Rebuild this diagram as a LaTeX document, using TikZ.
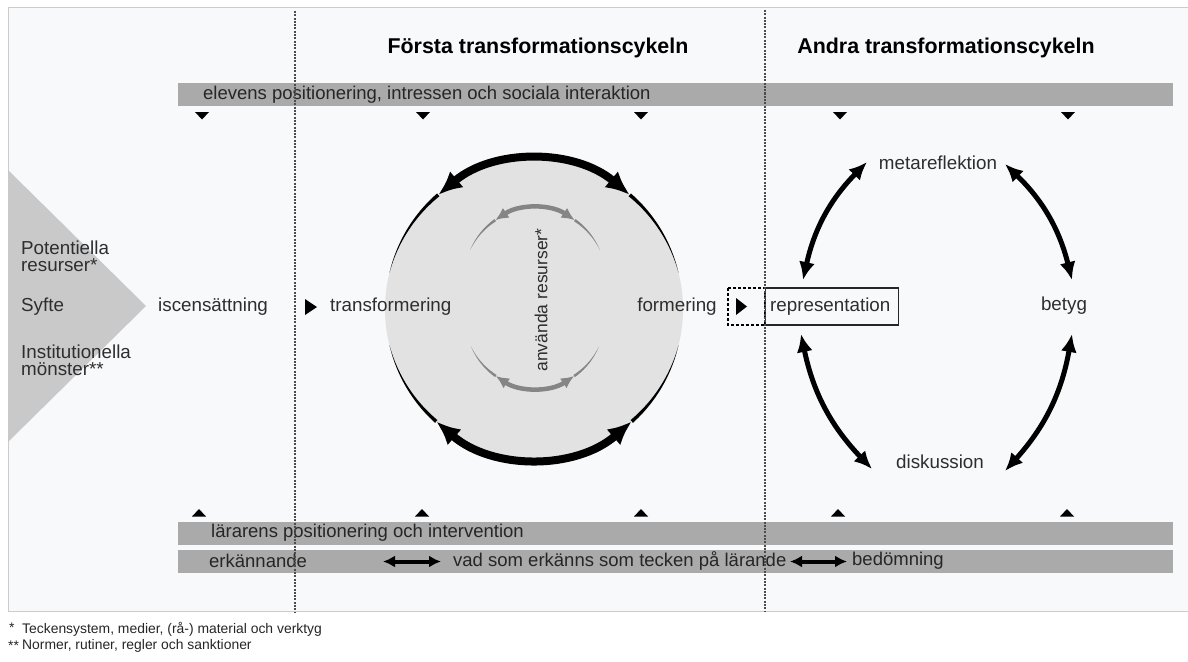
\documentclass[tikz,border=0pt]{standalone}
\usepackage{fontspec}
\setmainfont{Liberation Sans}
\usetikzlibrary{arrows.meta}
\definecolor{framebg}{HTML}{F8F9FB}
\definecolor{framegray}{HTML}{CCCCCC}
\definecolor{bargray}{HTML}{AAAAAA}
\definecolor{trigray}{HTML}{C9C9C9}
\definecolor{circgray}{HTML}{E2E2E2}
\definecolor{arrgray}{HTML}{858585}
\definecolor{textgray}{HTML}{2E2E2E}
% tapered tail of an arc: cx, cy, r, thick angle, end angle, half width, colour
\newcommand{\mytaper}[7]{%
  \fill[#7] plot[domain=#4:#5,samples=25] ({#1+(#3+#6*(\x-#5)/(#4-#5))*cos(\x)},{#2-(#3+#6*(\x-#5)/(#4-#5))*sin(\x)})
    -- plot[domain=#5:#4,samples=25] ({#1+(#3-#6*(\x-#5)/(#4-#5))*cos(\x)},{#2-(#3-#6*(\x-#5)/(#4-#5))*sin(\x)}) -- cycle;}
\begin{document}
\begin{tikzpicture}[x=1pt,y=-1pt,
  txt/.style={font=\fontsize{18.8}{16}\selectfont, text=textgray, inner sep=0pt},
  head/.style={font=\fontsize{21.4}{23}\selectfont\bfseries, text=black, inner sep=0pt},
  bartxt/.style={font=\fontsize{18.5}{20}\selectfont, text=black!85, inner sep=0pt, anchor=west},
  foot/.style={font=\fontsize{13.9}{15}\selectfont, text=black!85, inner sep=0pt, anchor=west},
  barbox/.style={fill=bargray, draw=none, inner sep=0pt, minimum width=995pt, minimum height=23pt, anchor=north west},
  divider/.style={line width=1.3pt, black!70, dash pattern=on 2pt off 1.3pt},
  cyc/.style={line width=5pt, {Latex[length=18pt,width=16pt]}-{Latex[length=18pt,width=16pt]}},
  dbl/.style={line width=4pt, {Latex[length=12pt,width=12pt]}-{Latex[length=12pt,width=12pt]}},
  bigarc/.style={line width=8pt, {Latex[length=24pt,width=21pt]}-{Latex[length=24pt,width=21pt]}},
  smallarc/.style={arrgray, line width=4.5pt, {Latex[length=13pt,width=12pt]}-{Latex[length=13pt,width=12pt]}},
]
\useasboundingbox (0,0) rectangle (1188,661);
\fill[white] (0,0) rectangle (1188,661);

% frame
\path[fill=framebg, draw=framegray, line width=0.8pt] (8,7) rectangle (1200,611);

% headings
\node[head] (h1) at (538,48) {Första transformationscykeln};
\node[head] (h2) at (946,48) {Andra transformationscykeln};

% top bar
\node[barbox] (topbar) at (178,83) {};
\node[bartxt] (elev) at (203,95) {elevens positionering, intressen och sociala interaktion};
\foreach \xx in {202,423,641,840,1068}
  \fill[black] (\xx,112) ++(-7,0) -- ++(14,0) -- ++(-7,7.5) -- cycle;

% bottom bars
\node[barbox] (botbar1) at (178,522) {};
\node[barbox] (botbar2) at (178,549.5) {};
\node[bartxt] (lar) at (211,533) {lärarens positionering och intervention};
\node[bartxt] (erk) at (209,561) {erkännande};
\node[bartxt] (vad) at (453,561) {vad som erkänns som tecken på lärande};
\node[bartxt] (bed) at (852,561) {bedömning};
\coordinate (d1a) at (383,561.5); \coordinate (d1b) at (441,561.5);
\coordinate (d2a) at (790,561.5); \coordinate (d2b) at (847,561.5);
\draw[dbl] (d1a) -- (d1b);
\draw[dbl] (d2a) -- (d2b);
\foreach \xx in {199,422,641,838,1067}
  \fill[black] (\xx,516.5) ++(-7,0) -- ++(14,0) -- ++(-7,-7.5) -- cycle;

% left wedge
\fill[trigray] (8,170) -- (146,306) -- (8,442) -- cycle;
\node[txt, font=\fontsize{18.8}{17}\selectfont, anchor=west, align=left] (pot) at (21,256) {Potentiella\\resurser*};
\node[txt, anchor=west] (syf) at (21,307) {Syfte};
\node[txt, font=\fontsize{18.8}{17}\selectfont, anchor=west, align=left] (inst) at (21,360) {Institutionella\\mönster**};

\node[txt, anchor=west] (isc) at (158,307) {iscensättning};
\fill[black] (305,299) -- (317,307) -- (305,315) -- cycle;

% big circle
\node[circle, fill=circgray, minimum size=298pt, inner sep=0pt] (circ) at (534,309) {};
\draw[bigarc] ({534+149*cos(130)},{309-149*sin(130)}) arc[start angle=-130, end angle=-50, radius=149];
\draw[bigarc] ({534+149*cos(229)},{309-149*sin(229)}) arc[start angle=-229, end angle=-311, radius=149];
\mytaper{534}{309}{149}{130}{166}{1.8}{black}
\mytaper{534}{309}{149}{50}{14}{1.8}{black}
\mytaper{534}{309}{149}{229}{194}{1.8}{black}
\mytaper{534}{309}{149}{311}{346}{1.8}{black}

\draw[smallarc] ({535+71*cos(124)},{279-71*sin(124)}) arc[start angle=-124, end angle=-56, radius=71];
\mytaper{535}{279}{71}{124}{156}{1.3}{arrgray}
\mytaper{535}{279}{71}{56}{24}{1.3}{arrgray}
\draw[smallarc] ({535+70*cos(236)},{318-70*sin(236)}) arc[start angle=-236, end angle=-304, radius=70];
\mytaper{535}{318}{70}{236}{204}{1.3}{arrgray}
\mytaper{535}{318}{70}{304}{336}{1.3}{arrgray}

\node[txt, font=\fontsize{17.5}{19}\selectfont, rotate=90] (anv) at (541,300) {använda resurser*};
\node[txt, anchor=west] (tra) at (330,307) {transformering};
\node[txt] (form) at (677,307) {formering};

% representation
\draw[line width=1.2pt, dash pattern=on 3pt off 2pt] (728,288) rectangle (765,325);
\fill[black] (736,298) -- (747,306.5) -- (736,315) -- cycle;
\node[draw=black!85, line width=1.2pt, minimum width=133pt, minimum height=37pt, inner sep=0pt, anchor=west] (repbox) at (765,306.5) {};
\node[txt, anchor=west] (rep) at (770,306.5) {representation};

% second cycle
\node[txt] (meta) at (938,163) {metareflektion};
\node[txt] (bet) at (1064,306) {betyg};
\node[txt] (disk) at (940,462) {diskussion};
\coordinate (r1) at (803,280); \coordinate (m1) at (867,162);
\coordinate (m2) at (1005,164); \coordinate (b1) at (1072,280);
\coordinate (r2) at (801,334); \coordinate (k1) at (872,469);
\coordinate (b2) at (1072,334); \coordinate (k2) at (1005,471);
\draw[cyc] (r1) to[bend left=16] (m1);
\draw[cyc] (m2) to[bend left=16] (b1);
\draw[cyc] (r2) to[bend right=16] (k1);
\draw[cyc] (b2) to[bend left=16] (k2);

% dividers
\draw[divider] (295,11) -- (295,612);
\draw[divider] (765,10) -- (765,611);

% footnotes
\node[foot] (f1a) at (9,628) {*};
\node[foot] (f1) at (22,629) {Teckensystem, medier, (rå-) material och verktyg};
\node[foot] (f2a) at (8,646) {**};
\node[foot] (f2) at (22,646) {Normer, rutiner, regler och sanktioner};
\end{tikzpicture}
\end{document}
